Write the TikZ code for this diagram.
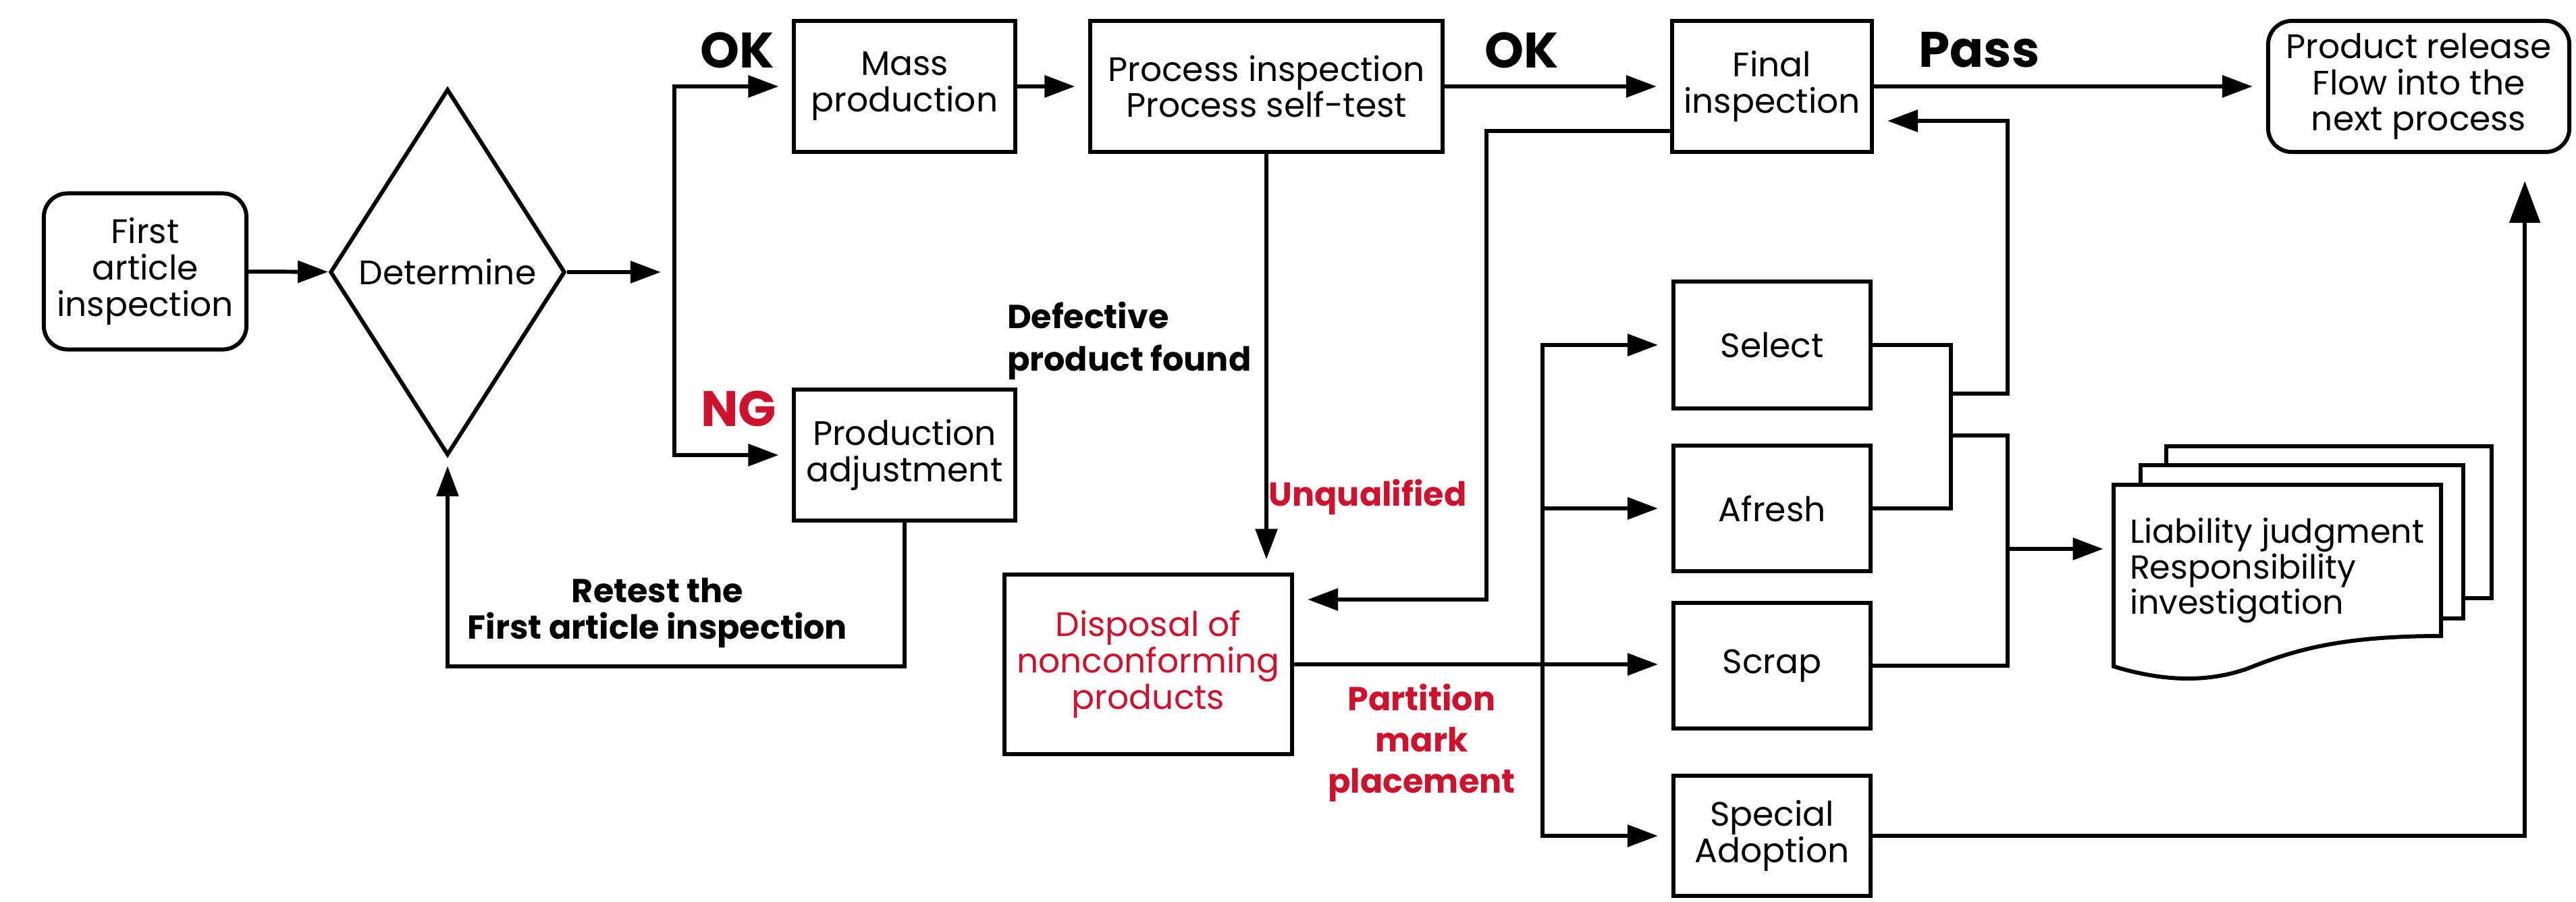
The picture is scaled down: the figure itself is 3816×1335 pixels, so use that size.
\documentclass[tikz,border=0pt]{standalone}
\usepackage{fontspec}
\setmainfont{Poppins}
\usepackage{tikz}
\usetikzlibrary{shapes.geometric}
\usetikzlibrary{arrows.meta}
\definecolor{ngred}{RGB}{206,17,45}

\begin{document}
\begin{tikzpicture}[x=0.01cm,y=-0.01cm,
  box/.style={draw,line width=1.7pt,align=center,inner sep=2pt,font=\fontsize{14.3}{15.3}\selectfont},
  rbox/.style={box,rounded corners=0.35cm},
  arr/.style={line width=1.7pt,-{Triangle[length=0.45cm,width=0.32cm]},shorten >=0.2cm},
  lnk/.style={line width=1.7pt},
  tag/.style={font=\bfseries\fontsize{21}{24}\selectfont},
  note/.style={font=\bfseries\fontsize{14}{16}\selectfont,align=center}]

\useasboundingbox (0,0) rectangle (3816,1335);

\node[rbox,minimum width=3cm,minimum height=2.31cm] (first) at (215,402) {First\\article\\inspection};
\node[box,diamond,inner sep=0pt,minimum width=3.48cm,minimum height=5.42cm] (det) at (663,403) {Determine};
\node[box,minimum width=3.27cm,minimum height=1.94cm] (mass) at (1340,128) {Mass\\production};
\node[box,minimum width=5.21cm,minimum height=1.94cm] (proc) at (1876,128) {Process inspection\\Process self-test};
\node[box,minimum width=2.96cm,minimum height=1.94cm] (final) at (2625,128) {Final\\inspection};
\node[rbox,minimum width=4.46cm,minimum height=1.94cm] (release) at (3583,128) {Product release\\Flow into the\\next process};
\node[box,minimum width=3.27cm,minimum height=1.93cm] (adj) at (1340,674) {Production\\adjustment};
\node[box,text=ngred,minimum width=4.26cm,minimum height=2.65cm] (disp) at (1701,984) {Disposal of\\nonconforming\\products};
\node[box,minimum width=2.92cm,minimum height=1.88cm] (select) at (2625,511) {Select};
\node[box,minimum width=2.92cm,minimum height=1.85cm] (afresh) at (2625,753) {Afresh};
\node[box,minimum width=2.92cm,minimum height=1.86cm] (scrap) at (2625,986) {Scrap};
\node[box,minimum width=2.92cm,minimum height=1.78cm] (special) at (2625,1238) {Special\\Adoption};

% document stack
\draw[lnk] (3209,689) -- (3209,661) -- (3691,661) -- (3691,886) -- (3649,886);
\draw[lnk] (3171,718) -- (3171,689) -- (3649,689) -- (3649,916) -- (3616,916);
\draw[lnk] (3131,718) -- (3616,718) -- (3616,942) .. controls (3470,942) and (3400,962) .. (3330,990) .. controls (3260,1015) and (3190,1005) .. (3131,987) -- cycle;
\node[align=left,font=\fontsize{14}{15}\selectfont,minimum width=4.85cm,minimum height=2.69cm] (doc) at (3373,845) {Liability judgment\\Responsibility\\investigation};

\draw[arr,shorten >=0pt] (first) -- (det);
\coordinate (fork) at (999,403);
\draw[arr] (det) -- (fork);
\draw[arr] (fork |- adj.west) |- (mass.west);
\draw[arr] (fork |- mass.west) |- (adj.west);
\node[tag] (ok1) at (1092,74) {OK};
\node[tag,text=ngred] (ng) at (1094,605) {NG};

\draw[arr] (mass) -- (proc);
\draw[arr] (proc) -- (final);
\node[tag] (ok2) at (2254,74) {OK};
\draw[arr] (final) -- (release);
\node[tag] (pass) at (2932,74) {Pass};

\draw[arr,shorten >=0.13cm] (adj.south) -- ++(0,213) -| (det.south);
\node[note,font=\bfseries\fontsize{14}{15.3}\selectfont] (retest) at (974,908) {Retest the\\First article inspection};

\draw[arr] (proc.south) -- (proc.south |- disp.north);
\node[note,align=left,anchor=east,font=\bfseries\fontsize{14}{18}\selectfont] (defect) at (1866,505) {Defective\\product found};
\node[note,text=ngred] (unq) at (2026,736) {Unqualified};

\draw[arr] ([yshift=-0.66cm]final.west) -- ++(-272,0) |- ([yshift=0.96cm]disp.east);

\draw[arr] (disp.east) -- (disp.east -| scrap.west);
\node[note,text=ngred,font=\bfseries\fontsize{14}{17.3}\selectfont] (part) at (2106,1100) {Partition\\mark\\placement};

\coordinate (bus) at (2285,984);
\draw[arr] (bus |- afresh.west) |- (select.west);
\draw[arr] (bus |- afresh.west) |- (special.west);
\draw[arr] (bus |- afresh.west) -- (afresh.west);

\coordinate (merge) at (2890,583);
\draw[lnk] (select.east) -| (merge) |- (afresh.east);
\draw[arr] (merge) -- ++(84,0) |- ([yshift=-0.51cm]final.east);
\coordinate (docbus) at (2974,813);
\draw[lnk] (merge |- 0,645) -| (docbus) |- (scrap.east);
\draw[arr,shorten >=0.14cm] (docbus) -- (docbus -| doc.west);

\draw[arr,-{Triangle[length=0.62cm,width=0.45cm]},shorten >=0.4cm] (special.east) -| ([xshift=1.57cm]release.south);
\end{tikzpicture}
\end{document}
